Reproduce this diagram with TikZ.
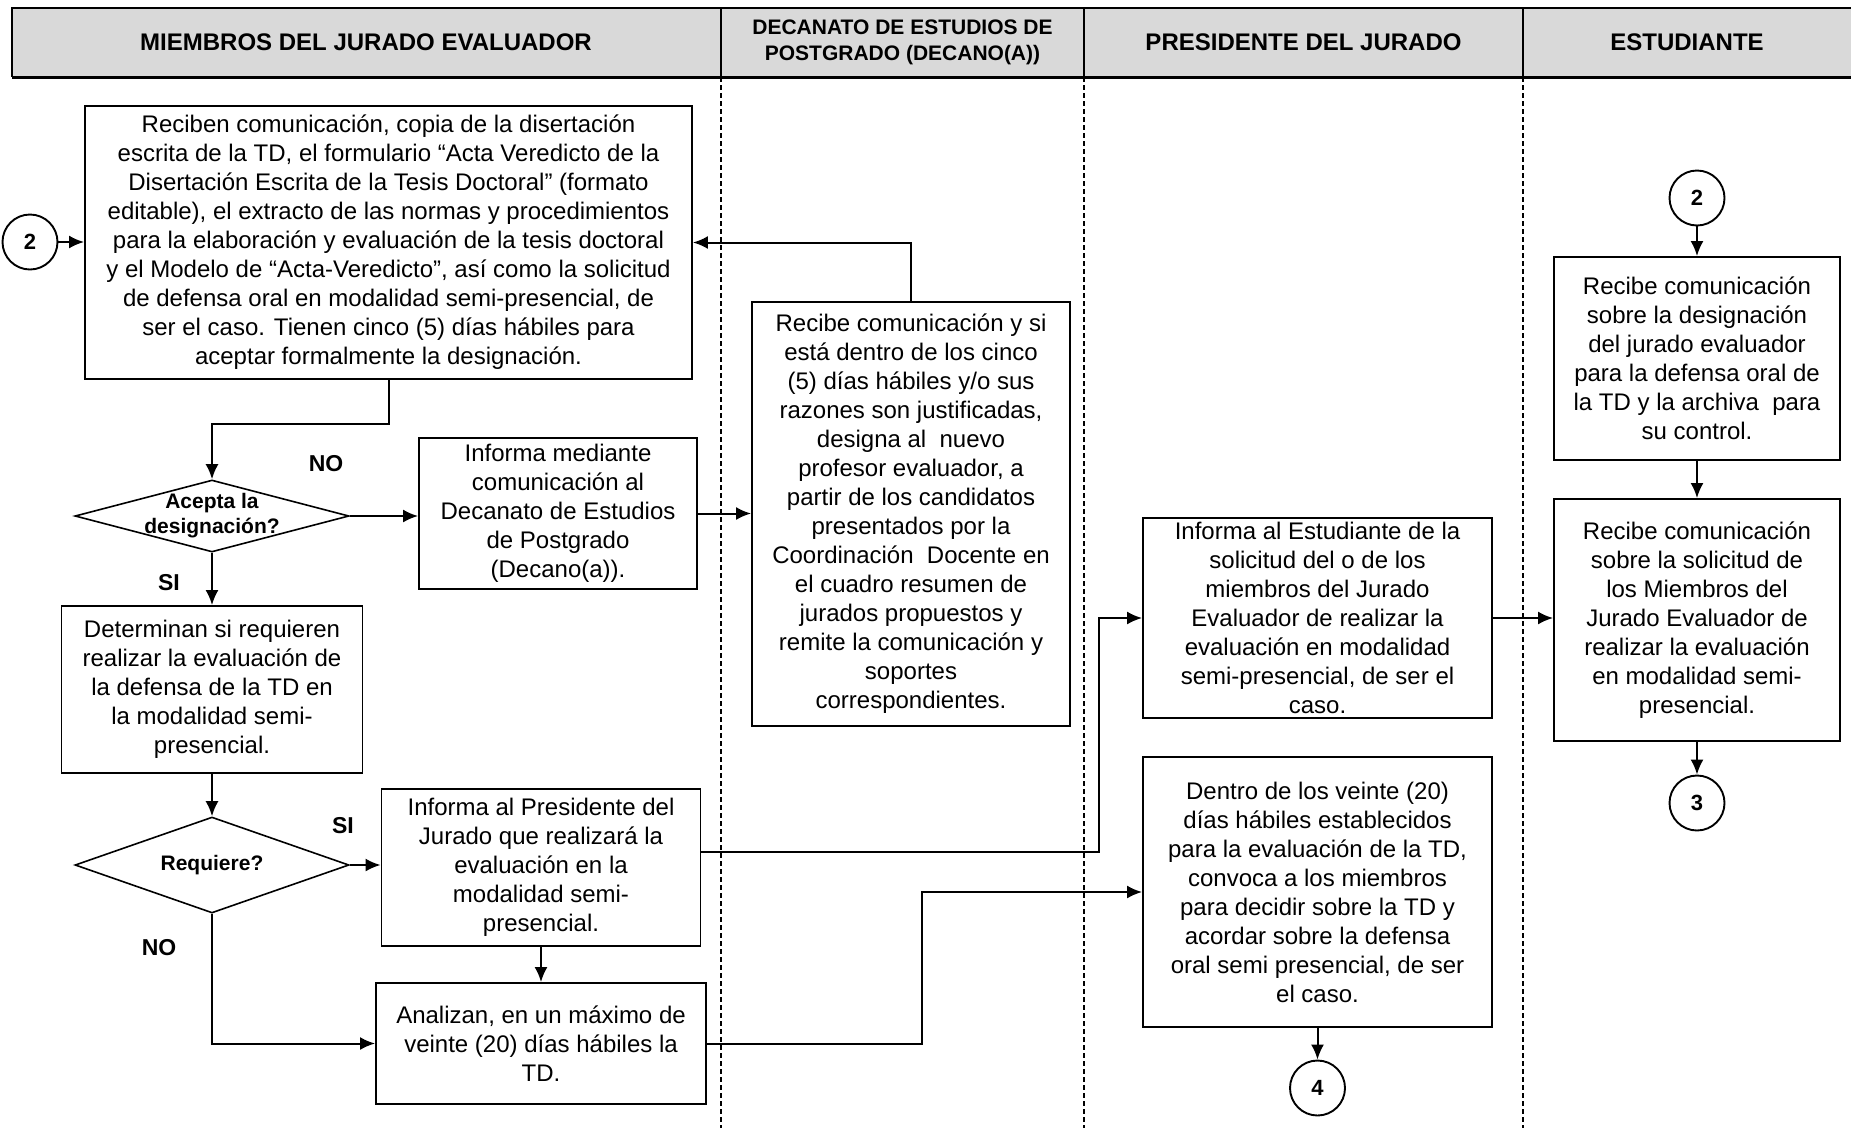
\documentclass[tikz,border=0pt]{standalone}
\usepackage{fontspec}
\setmainfont{Liberation Sans}
\usetikzlibrary{shapes.geometric,arrows.meta}
\newcommand\boxfont{\fontsize{24}{29}\selectfont}
\newcommand\hdrfont{\bfseries\fontsize{24}{29}\selectfont}
\newcommand\hdrsmall{\bfseries\fontsize{21}{26}\selectfont}
\newcommand\dmfont{\bfseries\fontsize{21}{25}\selectfont}
\newcommand\lblfont{\bfseries\fontsize{23}{27}\selectfont}
\begin{document}
\begin{tikzpicture}[x=1pt,y=-1pt,
  box/.style={draw, line width=1.9pt, align=center, inner sep=0pt, font=\boxfont},
  dmd/.style={diamond, draw, line width=1.6pt, inner sep=0pt, minimum width=274pt, aspect=3.8},
  dmtext/.style={align=center, font=\dmfont, inner sep=0pt},
  circ/.style={circle, draw, line width=1.9pt, minimum size=55pt, inner sep=0pt, font=\bfseries\fontsize{22}{26}\selectfont},
  conn/.style={line width=2pt, -{Latex[length=15pt,width=13pt]}},
  lane/.style={line width=1.2pt, dash pattern=on 5pt off 3pt},
  lbl/.style={font=\lblfont, inner sep=0pt},
  hdr/.style={align=center, inner sep=0pt}]
\useasboundingbox (0,0) rectangle (1851,1128);
% header
\fill[black!15] (12,8) rectangle (1851,77);
\draw[line width=1.5pt] (1851,8) -- (12,8) -- (12,77);
\draw[line width=1.5pt] (721,8) -- (721,77);
\draw[line width=1.5pt] (1084,8) -- (1084,77);
\draw[line width=1.5pt] (1523,8) -- (1523,77);
\draw[line width=3pt] (12,77) -- (1851,77);
\node[hdr, font=\hdrfont] (h1) at (366,42) {MIEMBROS DEL JURADO EVALUADOR};
\node[hdr, font=\hdrsmall] (h2) at (902.5,42) {DECANATO DE ESTUDIOS DE\\POSTGRADO (DECANO(A))};
\node[hdr, font=\hdrfont] (h3) at (1303.5,42) {PRESIDENTE DEL JURADO};
\node[hdr, font=\hdrfont] (h4) at (1687,42) {ESTUDIANTE};
% lanes
\draw[lane] (721,77) -- (721,1128);
\draw[lane] (1084,77) -- (1084,1128);
\draw[lane] (1523,77) -- (1523,1128);
% nodes
\node[circ] (c2L) at (30,242) {2};
\node[box, minimum width=607pt, minimum height=273pt] (A) at (388.5,242.5) {Reciben comunicación, copia de la disertación\\escrita de la TD, el formulario “Acta Veredicto de la\\Disertación Escrita de la Tesis Doctoral” (formato\\editable), el extracto de las normas y procedimientos\\para la elaboración y evaluación de la tesis doctoral\\y el Modelo de “Acta-Veredicto”, así como la solicitud\\de defensa oral en modalidad semi-presencial, de\\ser el caso. Tienen cinco (5) días hábiles para\\aceptar formalmente la designación.};
\node[dmd, minimum height=72pt] (d1) at (212,516) {};
\node[dmtext] (d1t) at (212,516) {Acepta la\\designación?};
\node[box, minimum width=278pt, minimum height=151pt] (B) at (558,513.5) {Informa mediante\\comunicación al\\Decanato de Estudios\\de Postgrado\\(Decano(a)).};
\node[box, minimum width=318pt, minimum height=424pt] (C) at (911,514) {Recibe comunicación y si\\está dentro de los cinco\\(5) días hábiles y/o sus\\razones son justificadas,\\designa al~ nuevo\\profesor evaluador, a\\partir de los candidatos\\presentados por la\\Coordinación~ Docente en\\el cuadro resumen de\\jurados propuestos y\\remite la comunicación y\\soportes\\correspondientes.};
\node[box, minimum width=301pt, minimum height=167pt] (Det) at (212,689.5) {Determinan si requieren\\realizar la evaluación de\\la defensa de la TD en\\la modalidad semi-\\presencial.};
\node[dmd, minimum height=96pt] (d2) at (212,865) {};
\node[dmtext] (d2t) at (212,865) {Requiere?};
\node[box, minimum width=319pt, minimum height=157pt] (IP) at (541,867.5) {Informa al Presidente del\\Jurado que realizará la\\evaluación en la\\modalidad semi-\\presencial.};
\node[box, minimum width=330pt, minimum height=121pt] (An) at (541,1043.5) {Analizan, en un máximo de\\veinte (20) días hábiles la\\TD.};
\node[box, minimum width=349pt, minimum height=200pt] (IE) at (1317.5,618) {Informa al Estudiante de la\\solicitud del o de los\\miembros del Jurado\\Evaluador de realizar la\\evaluación en modalidad\\semi-presencial, de ser el\\caso.};
\node[box, minimum width=349pt, minimum height=270pt] (Dentro) at (1317.5,892) {Dentro de los veinte (20)\\días hábiles establecidos\\para la evaluación de la TD,\\convoca a los miembros\\para decidir sobre la TD y\\acordar sobre la defensa\\oral semi presencial, de ser\\el caso.};
\node[circ] (c4) at (1317.5,1088) {4};
\node[circ] (c2R) at (1697,198) {2};
\node[box, minimum width=286pt, minimum height=203pt] (Des) at (1697,358.5) {Recibe comunicación\\sobre la designación\\del jurado evaluador\\para la defensa oral de\\la TD y la archiva~ para\\su control.};
\node[box, minimum width=286pt, minimum height=242pt] (Sol) at (1697,620) {Recibe comunicación\\sobre la solicitud de\\los Miembros del\\Jurado Evaluador de\\realizar la evaluación\\en modalidad semi-\\presencial.};
\node[circ] (c3) at (1697,803) {3};
% labels
\node[lbl] (no1) at (326,464) {NO};
\node[lbl] (si1) at (169,583) {SI};
\node[lbl] (si2) at (343,826) {SI};
\node[lbl] (no2) at (159,948) {NO};
% connectors
\coordinate (j1) at (1099,852);
\coordinate (j2) at (922,1043.5);
\draw[conn] (c2L.east) -- (A.west |- c2L.east);
\draw[conn] (C.north) |- (A.east);
\draw[conn] (A.south) -- ++(0,44) -| (d1.north);
\draw[conn] (d1.east) -- (B.west |- d1.east);
\draw[conn] (B.east) -- (C.west |- B.east);
\draw[conn] (d1.south) -- (Det.north);
\draw[conn] (Det.south) -- (d2.north);
\draw[conn] (d2.east) -- (IP.west |- d2.east);
\draw[conn] (d2.south) |- (An.west);
\draw[conn] (IP.south) -- (An.north);
\draw[conn] (IP.east |- j1) -- (j1) |- (IE.west);
\draw[conn] (An.east) -- (j2) |- (Dentro.west);
\draw[conn] (IE.east) -- (Sol.west |- IE.east);
\draw[conn] (Dentro.south) -- (c4.north);
\draw[conn] (c2R.south) -- (Des.north);
\draw[conn] (Des.south) -- (Sol.north);
\draw[conn] (Sol.south) -- (c3.north);
\end{tikzpicture}
\end{document}
